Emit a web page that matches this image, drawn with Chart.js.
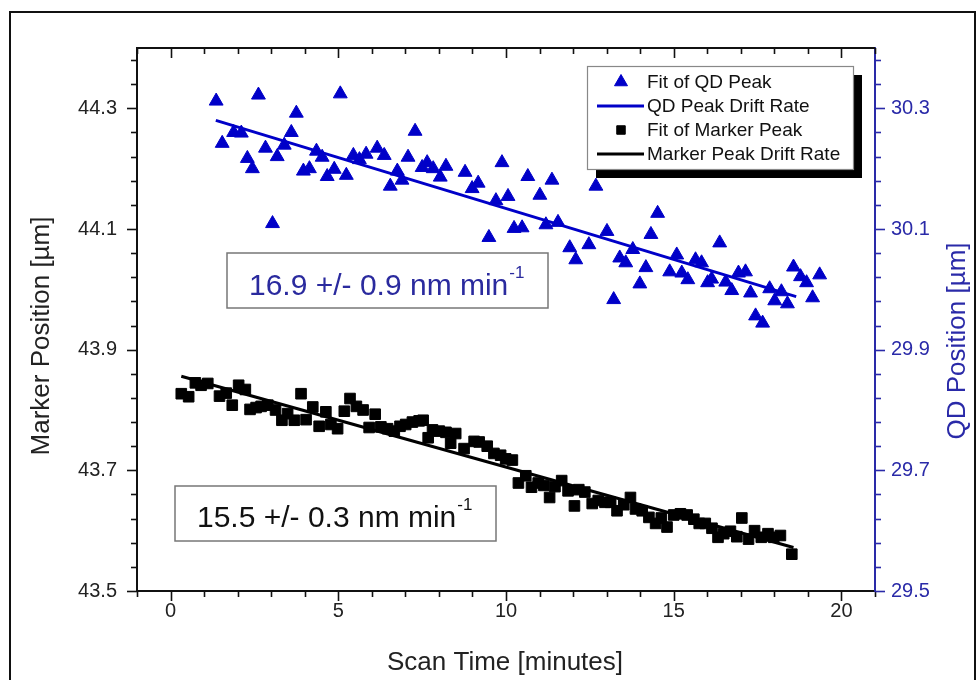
<!DOCTYPE html>
<html>
<head>
<meta charset="utf-8">
<script src="https://cdn.jsdelivr.net/npm/chart.js@4.4.1/dist/chart.umd.min.js"></script>
<style>
  html, body { margin: 0; padding: 0; background: #fff; }
  #wrap { position: relative; width: 978px; height: 680px; }
</style>
</head>
<body>
<div id="wrap"><canvas id="driftChart" width="978" height="680"></canvas></div>
<script>
// --- data ---
const markerTime = [0.32, 0.54, 0.74, 0.91, 1.11, 1.46, 1.66, 1.84, 2.03, 2.23, 2.37, 2.55, 2.70, 2.90, 3.13, 3.32, 3.49, 3.69, 3.89, 4.04,
  4.24, 4.43, 4.63, 4.78, 4.98, 5.18, 5.35, 5.54, 5.74, 5.92, 6.10, 6.27, 6.47, 6.67, 6.84, 7.01, 7.21, 7.41, 7.53, 7.68,
  7.81, 8.01, 8.21, 8.35, 8.50, 8.75, 9.05, 9.20, 9.44, 9.64, 9.84, 9.99, 10.19, 10.37, 10.59, 10.76, 10.96, 11.13, 11.30, 11.46,
  11.66, 11.85, 12.04, 12.17, 12.35, 12.57, 12.75, 12.95, 13.12, 13.31, 13.51, 13.71, 13.86, 14.06, 14.26, 14.46, 14.63, 14.80, 15.00, 15.20,
  15.40, 15.60, 15.76, 15.94, 16.14, 16.32, 16.49, 16.69, 16.88, 17.03, 17.23, 17.41, 17.61, 17.81, 17.98, 18.18, 18.52];
const markerPos = [43.827, 43.822, 43.845, 43.841, 43.844, 43.823, 43.828, 43.808, 43.841, 43.834, 43.801, 43.804, 43.806, 43.808, 43.800, 43.783, 43.794, 43.783, 43.827, 43.784,
  43.805, 43.773, 43.797, 43.776, 43.769, 43.798, 43.819, 43.806, 43.800, 43.771, 43.793, 43.772, 43.769, 43.765, 43.773, 43.776, 43.780, 43.782, 43.783, 43.754,
  43.767, 43.765, 43.763, 43.745, 43.761, 43.736, 43.748, 43.747, 43.740, 43.728, 43.725, 43.719, 43.717, 43.679, 43.691, 43.672, 43.679, 43.675, 43.655, 43.673,
  43.683, 43.666, 43.641, 43.668, 43.664, 43.645, 43.650, 43.647, 43.647, 43.633, 43.643, 43.655, 43.636, 43.633, 43.622, 43.612, 43.621, 43.606, 43.626, 43.628,
  43.626, 43.619, 43.612, 43.612, 43.604, 43.589, 43.595, 43.599, 43.590, 43.621, 43.586, 43.600, 43.589, 43.595, 43.589, 43.592, 43.561];

const qdTime = [1.36, 1.54, 1.88, 2.11, 2.29, 2.44, 2.62, 2.83, 3.04, 3.18, 3.39, 3.60, 3.75, 3.96, 4.14, 4.35, 4.52, 4.67, 4.88, 5.06,
  5.24, 5.45, 5.63, 5.83, 6.16, 6.37, 6.55, 6.76, 6.90, 7.08, 7.29, 7.50, 7.65, 7.83, 8.04, 8.21, 8.78, 8.99, 9.17, 9.49,
  9.70, 9.88, 10.06, 10.24, 10.48, 10.65, 11.01, 11.19, 11.37, 11.55, 11.90, 12.08, 12.47, 12.68, 13.01, 13.21, 13.39, 13.57, 13.78, 13.99,
  14.17, 14.32, 14.52, 14.88, 15.09, 15.24, 15.42, 15.65, 15.83, 16.01, 16.13, 16.37, 16.55, 16.73, 16.93, 17.14, 17.29, 17.44, 17.65, 17.86,
  18.01, 18.21, 18.39, 18.57, 18.78, 18.96, 19.14, 19.35];
const qdPos = [30.312, 30.242, 30.260, 30.259, 30.217, 30.200, 30.322, 30.234, 30.109, 30.220, 30.239, 30.260, 30.292, 30.196, 30.200, 30.229, 30.219, 30.187, 30.199, 30.324,
  30.189, 30.222, 30.215, 30.224, 30.234, 30.222, 30.171, 30.196, 30.181, 30.219, 30.262, 30.202, 30.210, 30.200, 30.186, 30.204, 30.194, 30.167, 30.176, 30.086,
  30.147, 30.210, 30.154, 30.101, 30.102, 30.187, 30.156, 30.107, 30.181, 30.111, 30.069, 30.049, 30.074, 30.171, 30.096, 29.983, 30.052, 30.044, 30.066, 30.009,
  30.036, 30.091, 30.126, 30.029, 30.057, 30.027, 30.016, 30.049, 30.044, 30.011, 30.017, 30.077, 30.012, 29.998, 30.027, 30.029, 29.994, 29.956, 29.944, 30.001,
  29.981, 29.996, 29.976, 30.037, 30.021, 30.011, 29.986, 30.024];

// linear fits (end points)
const markerFitTime = [0.32, 18.57];
const markerFitPos = [43.856, 43.572];
const qdFitTime = [1.35, 18.65];
const qdFitPos = [30.28, 29.988];

// tick labels
const xTickLabels = [0, 5, 10, 15, 20];
const markerTickLabels = [43.5, 43.7, 43.9, 44.1, 44.3];
const qdTickLabels = [29.5, 29.7, 29.9, 30.1, 30.3];

const BLUE = '#0000c8';
const AXIS_BLUE = '#2a2aa8';
const FONT = "'Liberation Sans', Arial, sans-serif";

const toXY = (xs, ys) => xs.map((x, i) => ({ x: x, y: ys[i] }));

// --- frame, minor/major ticks, titles, legend and the two rate boxes ---
const decorations = {
    id: 'decorations',
    beforeDraw(chart) {
        const ctx = chart.ctx;
        ctx.save();
        ctx.strokeStyle = '#111';
        ctx.lineWidth = 2;
        ctx.strokeRect(10, 12, 965, 700);
        ctx.restore();
    },
    afterDraw(chart) {
        const { ctx, chartArea: a, scales } = chart;
        const line = (x1, y1, x2, y2) => { ctx.beginPath(); ctx.moveTo(x1, y1); ctx.lineTo(x2, y2); ctx.stroke(); };
        ctx.save();

        // top frame line
        ctx.strokeStyle = '#111';
        ctx.lineWidth = 2;
        line(a.left - 1, a.top, a.right, a.top);

        // x ticks, bottom outward and top inward
        ctx.lineWidth = 1.6;
        for (let v = -1; v <= 21; v++) {
            const px = Math.round(scales.x.getPixelForValue(v)) + 0.5;
            const len = v % 5 === 0 ? 10 : 6;
            line(px, a.bottom, px, a.bottom + len);
            line(px, a.top, px, a.top + len);
        }
        // left ticks
        for (let k = 0; k <= 22; k++) {
            const py = Math.round(scales.y.getPixelForValue(43.5 + 0.04 * k)) + 0.5;
            const len = k % 5 === 0 ? 10 : 6;
            line(a.left, py, a.left - len, py);
        }
        // right ticks
        ctx.strokeStyle = AXIS_BLUE;
        for (let k = 0; k <= 22; k++) {
            const py = Math.round(scales.y2.getPixelForValue(29.5 + 0.04 * k)) + 0.5;
            const len = k % 5 === 0 ? 10 : 6;
            line(a.right, py, a.right + len, py);
        }

        // axis titles
        ctx.font = '26px ' + FONT;
        ctx.textAlign = 'center';
        ctx.textBaseline = 'middle';
        ctx.fillStyle = '#222';
        ctx.fillText('Scan Time [minutes]', 505, 663);
        ctx.save();
        ctx.translate(42, 336);
        ctx.rotate(-Math.PI / 2);
        ctx.fillText('Marker Position [\u00b5m]', 0, 0);
        ctx.restore();
        ctx.save();
        ctx.translate(958, 341);
        ctx.rotate(-Math.PI / 2);
        ctx.fillStyle = AXIS_BLUE;
        ctx.fillText('QD Position [\u00b5m]', 0, 0);
        ctx.restore();

        // legend with drop shadow
        const lx = 587, ly = 66, lw = 266, lh = 103;
        ctx.fillStyle = '#000';
        ctx.fillRect(lx + 9, ly + 9, lw, lh);
        ctx.fillStyle = '#fff';
        ctx.fillRect(lx, ly, lw, lh);
        ctx.strokeStyle = '#888';
        ctx.lineWidth = 1.2;
        ctx.strokeRect(lx + 0.5, ly + 0.5, lw, lh);

        const ds = chart.data.datasets;
        const rows = [82, 106, 130, 154];
        ctx.font = '19px ' + FONT;
        ctx.textAlign = 'left';
        ctx.textBaseline = 'middle';
        ds.forEach((d, i) => {
            const y = rows[i];
            if (d.showLine) {
                ctx.strokeStyle = d.borderColor;
                ctx.lineWidth = 3;
                line(597, y, 644, y);
            } else {
                ctx.fillStyle = d.backgroundColor;
                ctx.strokeStyle = d.borderColor;
                ctx.lineWidth = 1;
                Chart.helpers.drawPoint(ctx, { pointStyle: d.pointStyle, radius: d.pointStyle === 'rect' ? 6 : 7.5, rotation: 0, borderWidth: 1 }, 621, y);
            }
            ctx.fillStyle = '#111';
            ctx.fillText(d.label, 647, y + 1);
        });

        // rate boxes
        const rateBox = (x, y, w, h, text, color, tx, base) => {
            ctx.fillStyle = '#fff';
            ctx.fillRect(x, y, w, h);
            ctx.strokeStyle = '#777';
            ctx.lineWidth = 1.5;
            ctx.strokeRect(x, y, w, h);
            ctx.fillStyle = color;
            ctx.textBaseline = 'alphabetic';
            ctx.font = '30px ' + FONT;
            ctx.fillText(text, tx, base);
            const tw = ctx.measureText(text).width;
            ctx.font = '17px ' + FONT;
            ctx.fillText('-1', tx + tw + 1, base - 17);
        };
        rateBox(227, 253, 321, 55, '16.9 +/- 0.9 nm min', '#2a2a9e', 249, 295);
        rateBox(175, 486, 321, 55, '15.5 +/- 0.3 nm min', '#111', 197, 527);

        ctx.restore();
    }
};

new Chart(document.getElementById('driftChart'), {
    type: 'scatter',
    data: {
        datasets: [
            {
                label: 'Fit of QD Peak',
                data: toXY(qdTime, qdPos),
                yAxisID: 'y2',
                pointStyle: 'triangle',
                pointRadius: 8,
                backgroundColor: BLUE,
                borderColor: BLUE,
                borderWidth: 1,
            },
            {
                label: 'QD Peak Drift Rate',
                data: toXY(qdFitTime, qdFitPos),
                yAxisID: 'y2',
                showLine: true,
                pointRadius: 0,
                borderColor: BLUE,
                borderWidth: 3,
            },
            {
                label: 'Fit of Marker Peak',
                data: toXY(markerTime, markerPos),
                yAxisID: 'y',
                pointStyle: 'rect',
                pointRadius: 7.5,
                backgroundColor: '#000',
                borderColor: '#000',
                borderWidth: 1,
            },
            {
                label: 'Marker Peak Drift Rate',
                data: toXY(markerFitTime, markerFitPos),
                yAxisID: 'y',
                showLine: true,
                pointRadius: 0,
                borderColor: '#000',
                borderWidth: 3,
            }
        ]
    },
    options: {
        responsive: false,
        animation: false,
        layout: { padding: { top: 48, left: 0, right: 0, bottom: 0 } },
        plugins: {
            legend: { display: false },
            tooltip: { enabled: false }
        },
        scales: {
            x: {
                type: 'linear',
                position: 'bottom',
                min: -1,
                max: 21,
                afterBuildTicks: s => { s.ticks = xTickLabels.map(v => ({ value: v })); },
                afterFit: s => { s.height = 89; },
                grid: { display: false, drawTicks: false },
                border: { color: '#111', width: 2 },
                ticks: { color: '#222', font: { family: FONT, size: 20 }, padding: 8, callback: v => String(v) }
            },
            y: {
                type: 'linear',
                position: 'left',
                min: 43.5,
                max: 44.4,
                afterBuildTicks: s => { s.ticks = markerTickLabels.map(v => ({ value: v })); },
                afterFit: s => { s.width = 137; },
                grid: { display: false, drawTicks: false },
                border: { color: '#111', width: 2 },
                ticks: { color: '#222', font: { family: FONT, size: 20 }, padding: 20, callback: v => v.toFixed(1) }
            },
            y2: {
                type: 'linear',
                position: 'right',
                min: 29.5,
                max: 30.4,
                afterBuildTicks: s => { s.ticks = qdTickLabels.map(v => ({ value: v })); },
                afterFit: s => { s.width = 103; },
                grid: { display: false, drawTicks: false },
                border: { color: AXIS_BLUE, width: 2 },
                ticks: { color: AXIS_BLUE, font: { family: FONT, size: 20 }, padding: 16, callback: v => v.toFixed(1) }
            }
        }
    },
    plugins: [decorations]
});
</script>
</body>
</html>
